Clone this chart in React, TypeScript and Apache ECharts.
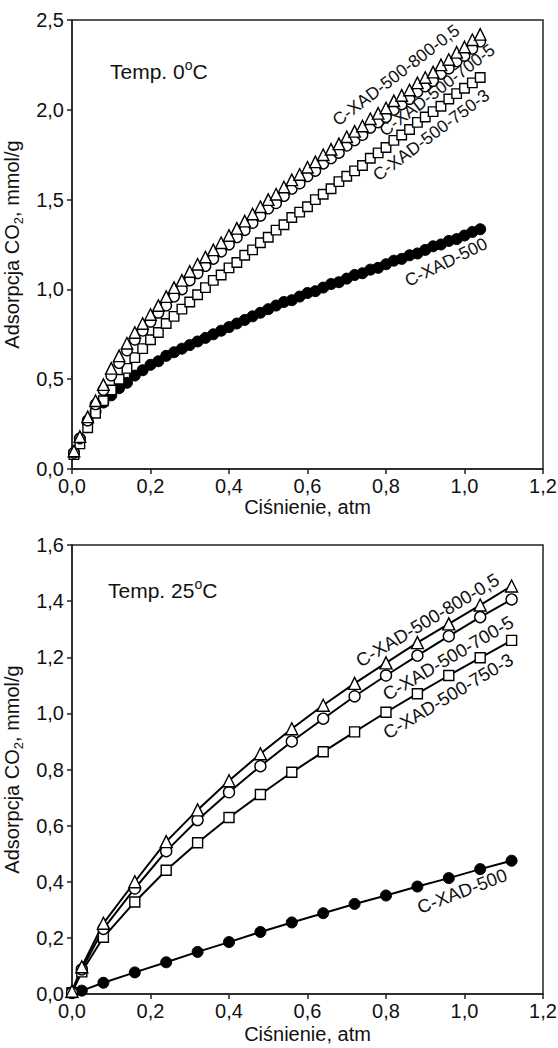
import React, { useEffect, useRef } from "react";
import * as echarts from "echarts";

// ---- Top chart (0 °C) ----
const P0 = [0.005, 0.02, 0.04, 0.06, 0.08, 0.10, 0.12, 0.14, 0.16, 0.18, 0.20, 0.22, 0.24, 0.26, 0.28, 0.30, 0.32, 0.34, 0.36, 0.38, 0.40, 0.42, 0.44, 0.46, 0.48, 0.50, 0.52, 0.54, 0.56, 0.58, 0.60, 0.62, 0.64, 0.66, 0.68, 0.70, 0.72, 0.74, 0.76, 0.78, 0.80, 0.82, 0.84, 0.86, 0.88, 0.90, 0.92, 0.94, 0.96, 0.98, 1.00, 1.02, 1.04];
const T0 = [0.10, 0.18, 0.29, 0.38, 0.47, 0.56, 0.63, 0.70, 0.76, 0.81, 0.86, 0.91, 0.96, 1.01, 1.05, 1.10, 1.14, 1.18, 1.22, 1.26, 1.30, 1.34, 1.38, 1.42, 1.46, 1.50, 1.53, 1.57, 1.61, 1.64, 1.68, 1.71, 1.75, 1.78, 1.81, 1.85, 1.88, 1.91, 1.95, 1.98, 2.01, 2.05, 2.08, 2.11, 2.15, 2.18, 2.21, 2.25, 2.28, 2.32, 2.35, 2.39, 2.42];
const O0 = [0.09, 0.17, 0.27, 0.36, 0.44, 0.52, 0.59, 0.66, 0.72, 0.77, 0.82, 0.87, 0.91, 0.96, 1.00, 1.05, 1.09, 1.13, 1.17, 1.21, 1.25, 1.29, 1.33, 1.37, 1.41, 1.45, 1.48, 1.52, 1.56, 1.59, 1.63, 1.66, 1.70, 1.73, 1.76, 1.80, 1.83, 1.86, 1.90, 1.93, 1.96, 2.00, 2.03, 2.06, 2.10, 2.13, 2.16, 2.20, 2.23, 2.27, 2.30, 2.34, 2.38];
const S0 = [0.08, 0.14, 0.23, 0.31, 0.38, 0.44, 0.50, 0.56, 0.62, 0.67, 0.72, 0.76, 0.81, 0.85, 0.89, 0.93, 0.97, 1.01, 1.05, 1.08, 1.12, 1.15, 1.19, 1.22, 1.26, 1.29, 1.33, 1.36, 1.40, 1.43, 1.46, 1.50, 1.53, 1.56, 1.60, 1.63, 1.66, 1.69, 1.73, 1.76, 1.79, 1.83, 1.86, 1.89, 1.93, 1.96, 1.99, 2.02, 2.06, 2.09, 2.12, 2.15, 2.18];
const B0 = [0.09, 0.17, 0.26, 0.32, 0.37, 0.41, 0.45, 0.48, 0.52, 0.55, 0.58, 0.60, 0.63, 0.65, 0.67, 0.69, 0.71, 0.73, 0.75, 0.77, 0.79, 0.81, 0.83, 0.85, 0.87, 0.89, 0.91, 0.93, 0.94, 0.96, 0.98, 0.99, 1.01, 1.03, 1.04, 1.06, 1.08, 1.09, 1.11, 1.12, 1.14, 1.16, 1.17, 1.19, 1.20, 1.22, 1.24, 1.25, 1.27, 1.28, 1.30, 1.32, 1.335];

// ---- Bottom chart (25 °C) ----
const P25 = [0, 0.025, 0.08, 0.16, 0.24, 0.32, 0.40, 0.48, 0.56, 0.64, 0.72, 0.80, 0.88, 0.96, 1.04, 1.12];
const T25 = [0.01, 0.097, 0.252, 0.40, 0.543, 0.656, 0.76, 0.856, 0.945, 1.029, 1.107, 1.18, 1.252, 1.319, 1.386, 1.454];
const O25 = [0.005, 0.088, 0.232, 0.376, 0.509, 0.62, 0.719, 0.812, 0.90, 0.981, 1.061, 1.135, 1.206, 1.275, 1.343, 1.406];
const S25 = [0.005, 0.079, 0.202, 0.328, 0.441, 0.539, 0.629, 0.711, 0.79, 0.863, 0.934, 1.004, 1.07, 1.135, 1.198, 1.26];
const B25 = [0.003, 0.012, 0.04, 0.077, 0.113, 0.15, 0.185, 0.221, 0.255, 0.288, 0.321, 0.351, 0.383, 0.413, 0.445, 0.475];

const SERIES_NAMES = ["C-XAD-500", "C-XAD-500-750-3", "C-XAD-500-700-5", "C-XAD-500-800-0,5"];
const TEMP_LABELS = ["Temp. 0{sup|o}C", "Temp. 25{sup|o}C"];
const X_NAME = "Ciśnienie, atm";
const Y_NAME = "Adsorpcja CO{s|2}, mmol/g";

const FONT = '"Liberation Sans", Arial, Helvetica, sans-serif';
const INK = "#111";

const fmt = (v: number) => v.toFixed(1).replace(".", ",");

const pairs = (xs: number[], ys: number[]) => xs.map((x, i) => [x, ys[i]]);

function App() {
  const ref = useRef<HTMLDivElement>(null);
  useEffect(() => {
    if (!ref.current) return;
    const chart = echarts.init(ref.current, undefined, { renderer: "svg" });

    const xAxisBase = (gridIndex: number, gap: number) => ({
      gridIndex,
      type: "value",
      min: 0,
      max: 1.2,
      interval: 0.2,
      name: X_NAME,
      nameLocation: "middle",
      nameGap: gap,
      nameTextStyle: { fontSize: 20, color: INK, fontFamily: FONT },
      axisLine: { show: true, onZero: false, lineStyle: { color: "#222", width: 1.5 } },
      axisTick: { show: true, inside: false, length: 5, lineStyle: { color: "#222", width: 1.5 } },
      axisLabel: { fontSize: 20, color: INK, fontFamily: FONT, formatter: fmt, margin: 7 },
      splitLine: { show: false },
    });
    const yAxisBase = (gridIndex: number, max: number, interval: number) => ({
      gridIndex,
      type: "value",
      min: 0,
      max,
      interval,
      name: Y_NAME,
      nameLocation: "middle",
      nameGap: 40,
      nameRotate: 90,
      nameTextStyle: {
        fontSize: 20,
        color: INK,
        fontFamily: FONT,
        lineHeight: 26,
        rich: { s: { fontSize: 13, fontFamily: FONT, color: INK, verticalAlign: "bottom", lineHeight: 13 } },
      },
      axisLine: { show: true, onZero: false, lineStyle: { color: "#222", width: 1.5 } },
      axisTick: { show: true, inside: false, length: 5, lineStyle: { color: "#222", width: 1.5 } },
      axisLabel: { fontSize: 20, color: INK, fontFamily: FONT, formatter: fmt, margin: 8 },
      splitLine: { show: false },
    });

    const openStyle = { color: "#fff", borderColor: "#000", borderWidth: 1.4, opacity: 1 };
    const filledStyle = { color: "#000", borderColor: "#000", borderWidth: 1, opacity: 1 };

    const topScatter = (name: string, ys: number[], symbol: string, size: number, style: any) => ({
      name,
      type: "scatter",
      xAxisIndex: 0,
      yAxisIndex: 0,
      symbol,
      symbolSize: size,
      itemStyle: style,
      data: pairs(P0, ys),
      z: 3,
    });
    const bottomLine = (name: string, ys: number[], symbol: string, size: number, style: any) => ({
      name,
      type: "line",
      xAxisIndex: 1,
      yAxisIndex: 1,
      symbol,
      symbolSize: size,
      showSymbol: true,
      showAllSymbol: true,
      itemStyle: style,
      lineStyle: { color: "#000", width: 2 },
      data: pairs(P25, ys),
      z: 3,
    });

    const label = (text: string, x: number, y: number, deg: number, size: number) => ({
      type: "text",
      x,
      y,
      rotation: (deg * Math.PI) / 180,
      z: 10,
      style: {
        text,
        fontSize: size,
        fontFamily: FONT,
        fill: INK,
        align: "center",
        verticalAlign: "middle",
      },
    });
    const tempLabel = (text: string, x: number, y: number) => ({
      type: "text",
      x,
      y,
      z: 10,
      style: {
        text,
        fontSize: 21,
        fontFamily: FONT,
        fill: INK,
        align: "left",
        verticalAlign: "middle",
        lineHeight: 26,
        rich: { sup: { fontSize: 14, fontFamily: FONT, fill: INK, verticalAlign: "top", lineHeight: 14 } },
      },
    });

    const gridBase = {
      left: 72,
      right: 15,
      height: 449,
      show: true,
      borderColor: "#222",
      borderWidth: 1.5,
      backgroundColor: "transparent",
      containLabel: false,
      outerBoundsMode: "none",
    };

    chart.setOption({
      animation: false,
      textStyle: { fontFamily: FONT },
      grid: [
        { ...gridBase, top: 20 },
        { ...gridBase, top: 545 },
      ],
      xAxis: [xAxisBase(0, 26), xAxisBase(1, 30)],
      yAxis: [yAxisBase(0, 2.5, 0.5), yAxisBase(1, 1.6, 0.2)],
      series: [
        topScatter(SERIES_NAMES[0], B0, "circle", 11, filledStyle),
        topScatter(SERIES_NAMES[1], S0, "rect", 9.5, openStyle),
        topScatter(SERIES_NAMES[2], O0, "circle", 10.5, openStyle),
        topScatter(SERIES_NAMES[3], T0, "triangle", 11.5, openStyle),
        bottomLine(SERIES_NAMES[0], B25, "circle", 11, filledStyle),
        bottomLine(SERIES_NAMES[1], S25, "rect", 10, openStyle),
        bottomLine(SERIES_NAMES[2], O25, "circle", 11, openStyle),
        bottomLine(SERIES_NAMES[3], T25, "triangle", 12, openStyle),
      ],
      graphic: [
        tempLabel(TEMP_LABELS[0], 110, 71),
        tempLabel(TEMP_LABELS[1], 108, 590),
        label(SERIES_NAMES[3], 396, 75, 37.5, 17.5),
        label(SERIES_NAMES[2], 437, 90, 37.4, 17.5),
        label(SERIES_NAMES[1], 431, 135, 36.7, 17.5),
        label(SERIES_NAMES[0], 446, 262, 26, 17.5),
        label(SERIES_NAMES[3], 427.5, 620, 31, 18.5),
        label(SERIES_NAMES[2], 448, 658, 30.5, 18.5),
        label(SERIES_NAMES[1], 448, 696, 31, 18.5),
        label(SERIES_NAMES[0], 462, 891, 21, 18.5),
      ],
    });

    return () => chart.dispose();
  }, []);

  return (
    <div
      ref={ref}
      style={{ position: "absolute", left: 0, top: 0, width: 558, height: 1048, background: "#fff" }}
    />
  );
}

export default App;
